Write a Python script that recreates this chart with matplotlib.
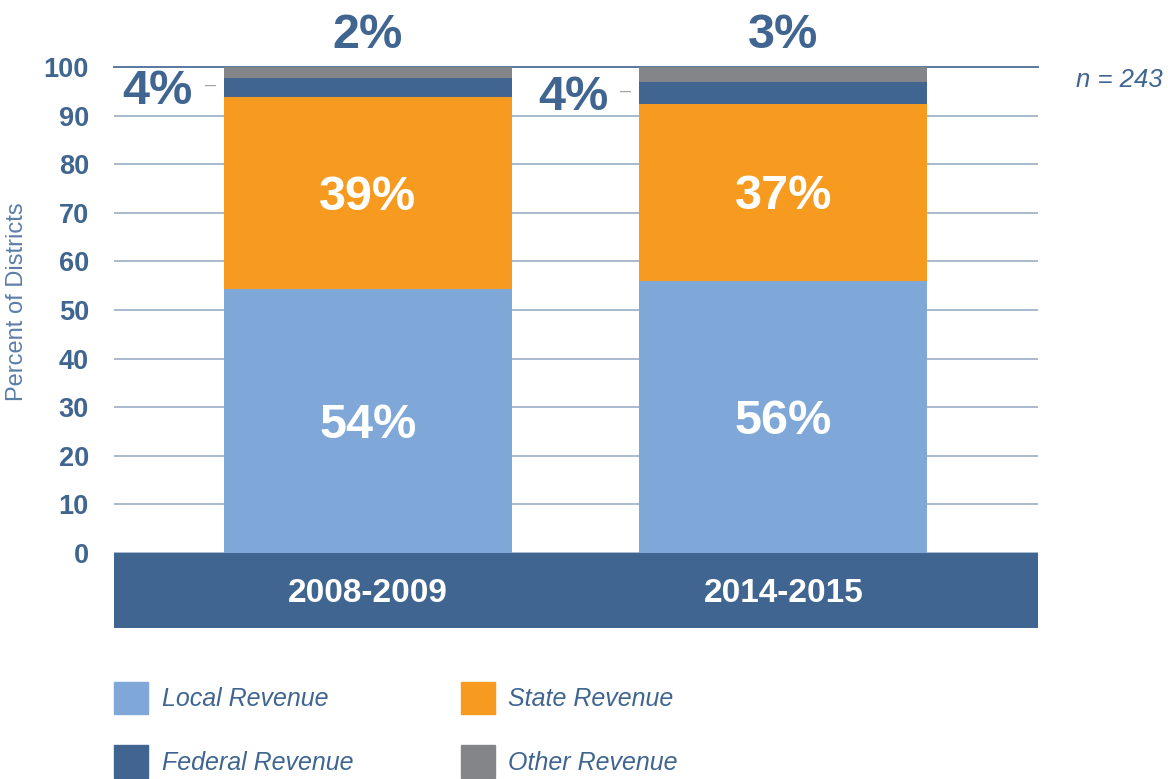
import matplotlib
matplotlib.use("Agg")
import matplotlib.pyplot as plt
from matplotlib.patches import Patch

plt.rcParams['font.family'] = ['Liberation Sans', 'DejaVu Sans']

# ---- data ----
periods = ["2008-2009", "2014-2015"]
local_rev = [54.3, 55.9]
state_rev = [39.5, 36.5]
federal_rev = [3.9, 4.5]
other_rev = [2.3, 3.1]
local_labels = ["54%", "56%"]
state_labels = ["39%", "37%"]
federal_labels = ["4%", "4%"]
other_labels = ["2%", "3%"]
series_names = ["Local Revenue", "State Revenue", "Federal Revenue", "Other Revenue"]
n_label = "n = 243"
yticks = [0, 10, 20, 30, 40, 50, 60, 70, 80, 90, 100]

# ---- style ----
c_local = "#7FA8D9"
c_state = "#F79B20"
c_fed = "#3F6590"
c_other = "#848589"
c_text = "#3F6590"
c_grid = "#A8B9CE"

W, H = 1168, 779
fig = plt.figure(figsize=(W / 100, H / 100), dpi=100)
ax = fig.add_axes([114 / W, 1 - 628 / H, (1038 - 114) / W, (628 - 67) / H])

x = list(range(len(periods)))
width = 0.693
ax.set_xlim(-0.611, 1.6125)
ax.set_ylim(-15.43, 100)

bottom_state = local_rev
bottom_fed = [a + b for a, b in zip(local_rev, state_rev)]
bottom_other = [a + b for a, b in zip(bottom_fed, federal_rev)]

ax.bar(x, local_rev, width, color=c_local, zorder=3, linewidth=0)
ax.bar(x, state_rev, width, bottom=bottom_state, color=c_state, zorder=3, linewidth=0)
ax.bar(x, federal_rev, width, bottom=bottom_fed, color=c_fed, zorder=3, linewidth=0)
ax.bar(x, other_rev, width, bottom=bottom_other, color=c_other, zorder=3, linewidth=0)

# band below axis with category labels
ax.axhspan(-15.43, 0, color=c_fed, zorder=2, linewidth=0)
for xi, p in zip(x, periods):
    ax.annotate(p, xy=(xi, -7.7), xytext=(0, -3), textcoords="offset pixels",
                ha="center", va="center", color="white",
                fontsize=24, fontweight="bold", zorder=4)

# grid
ax.set_yticks(yticks)
ax.yaxis.grid(True, color=c_grid, linewidth=1.4, zorder=1)
ax.set_axisbelow(True)
ax.set_xticks([])
for s in ["left", "right", "bottom"]:
    ax.spines[s].set_visible(False)
ax.spines["top"].set_color("#5A79A0")
ax.spines["top"].set_linewidth(1.4)
ax.tick_params(axis="y", length=0, pad=18, labelsize=19.5, labelcolor=c_text)
for lab in ax.get_yticklabels():
    lab.set_fontweight("bold")

# in-bar labels
for i in range(len(x)):
    ax.annotate(local_labels[i], xy=(x[i], local_rev[i] / 2), xytext=(0, -4),
                textcoords="offset pixels", ha="center", va="center",
                color="white", fontsize=35, fontweight="bold", zorder=5)
    ax.annotate(state_labels[i], xy=(x[i], bottom_state[i] + state_rev[i] / 2),
                xytext=(0, -4), textcoords="offset pixels", ha="center",
                va="center", color="white", fontsize=35, fontweight="bold", zorder=5)
    left = x[i] - width / 2
    fmid = bottom_fed[i] + federal_rev[i] / 2
    ax.annotate(federal_labels[i], xy=(left, fmid), xytext=(-31, -4),
                textcoords="offset pixels", ha="right", va="center",
                color=c_text, fontsize=35, fontweight="bold", annotation_clip=False)
    ax.annotate("\u2013", xy=(left, fmid), xytext=(-8, 2),
                textcoords="offset pixels", ha="right", va="center",
                color="#A0A0A0", fontsize=14, annotation_clip=False)
    ax.annotate(other_labels[i], xy=(x[i], 100), xytext=(0, 32),
                textcoords="offset pixels", ha="center", va="center",
                color=c_text, fontsize=35, fontweight="bold", annotation_clip=False)

# y label
fig.text(17 / W, 1 - 302 / H, "Percent of Districts", rotation=90, ha="center",
         va="center", color="#5B7DA8", fontsize=17)

# n label
fig.text(1119 / W, 1 - 80 / H, n_label, ha="center", va="center", color=c_text,
         fontsize=18.5, style="italic")

# legend
handles = [Patch(color=c_local, label=series_names[0]),
           Patch(color=c_fed, label=series_names[2]),
           Patch(color=c_state, label=series_names[1]),
           Patch(color=c_other, label=series_names[3])]
leg = fig.legend(handles=handles, loc="upper left", bbox_to_anchor=(114 / W, 1 - 682 / H),
                 ncol=2, frameon=False, borderpad=0, borderaxespad=0,
                 handlelength=1.36, handleheight=1.6, handletextpad=0.55,
                 columnspacing=4.3, labelspacing=1.25,
                 prop={"size": 18, "style": "italic"})
for t in leg.get_texts():
    t.set_color(c_text)

fig.savefig("out.png", dpi=100)
